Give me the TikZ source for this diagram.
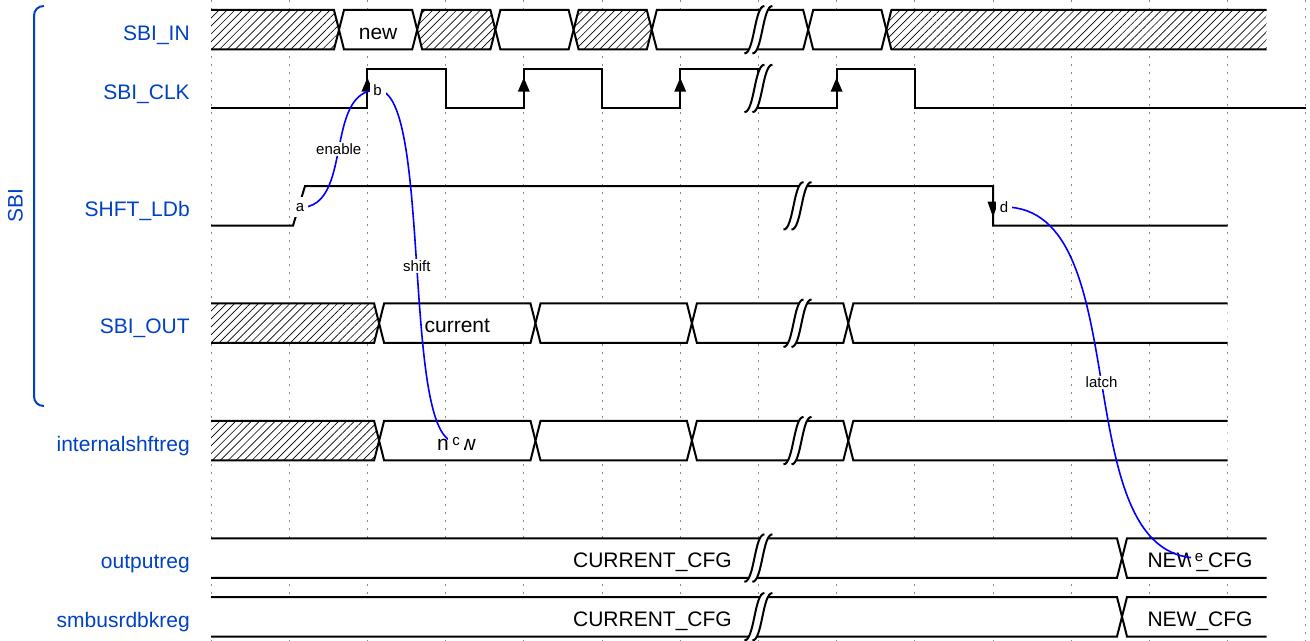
\documentclass[tikz,border=0pt]{standalone}
\usepackage{fontspec}
\setmainfont{Liberation Sans}
\usetikzlibrary{patterns.meta}
\definecolor{wdblue}{HTML}{0041C4}
\definecolor{gridgray}{HTML}{888888}

% data brick between two crossings: x1, x2, top, bottom, look
\newcommand{\wbrick}[5]{%
  \filldraw[wave,#5] (#1,{(#3+#4)/2}) -- (#1+5,#3) -- (#2-5,#3) -- (#2,{(#3+#4)/2}) -- (#2-5,#4) -- (#1+5,#4) -- cycle;}
% brick open on the left
\newcommand{\wbrickL}[5]{%
  \path[#5] (#1,#3) -- (#2-5,#3) -- (#2,{(#3+#4)/2}) -- (#2-5,#4) -- (#1,#4) -- cycle;
  \draw[wave] (#1,#3) -- (#2-5,#3) -- (#2,{(#3+#4)/2}) -- (#2-5,#4) -- (#1,#4);}
% brick open on the right
\newcommand{\wbrickR}[5]{%
  \path[#5] (#2,#3) -- (#1+5,#3) -- (#1,{(#3+#4)/2}) -- (#1+5,#4) -- (#2,#4) -- cycle;
  \draw[wave] (#2,#3) -- (#1+5,#3) -- (#1,{(#3+#4)/2}) -- (#1+5,#4) -- (#2,#4);}
% break mark: centre x, top, bottom
\newcommand{\wgap}[3]{%
  \fill[white] (#1-14,#3+4) .. controls (#1-4,#3+4) and (#1-4,#2-4) .. (#1+6,#2-4)
    -- (#1+14,#2-4) .. controls (#1+4,#2-4) and (#1+4,#3+4) .. (#1-6,#3+4) -- cycle;
  \draw[wave] (#1-14,#3+4) .. controls (#1-4,#3+4) and (#1-4,#2-4) .. (#1+6,#2-4);
  \draw[wave] (#1-6,#3+4) .. controls (#1+4,#3+4) and (#1+4,#2-4) .. (#1+14,#2-4);}

\begin{document}
\begin{tikzpicture}[x=0.75pt,y=-0.75pt,
  wave/.style={line width=1.5pt},
  datfill/.style={fill=white},
  xfill/.style={preaction={fill=white},pattern={Lines[angle=45,distance=4.2pt,line width=0.5pt]}},
  gridln/.style={gridgray,line width=0.75pt,dash pattern=on 1.5pt off 4.5pt},
  sig/.style={text=wdblue,font=\fontsize{15.75}{18}\selectfont,anchor=base east,inner sep=0pt},
  dat/.style={font=\fontsize{15.75}{18}\selectfont,anchor=base,inner sep=0pt},
  link/.style={blue,line width=1.2pt},
  elbl/.style={fill=white,text=black,font=\fontsize{11.25}{13}\selectfont,inner sep=1pt},
  nlbl/.style={fill=white,text=black,font=\fontsize{11.25}{13}\selectfont,inner sep=0pt,minimum width=12pt,minimum height=15pt}]
\useasboundingbox (0,0) rectangle (1310,641);

% grid
\foreach \k in {0,...,14}
  \draw[gridln] ({211+78.2*\k},0) -- ({211+78.2*\k},641);

% group
\draw[wdblue,line width=1.5pt] (44,6) .. controls (38,6) and (34,10) .. (34,16) -- (34,396)
  .. controls (34,402) and (38,406) .. (44,406);
\node[text=wdblue,font=\fontsize{15.75}{18}\selectfont,rotate=90] (grp) at (15.5,206) {SBI};

% signal names
\node[sig] (lin) at (190,40.5) {SBI\_IN};
\node[sig] (lclk) at (190,99.2) {SBI\_CLK};
\node[sig] (lshft) at (190,216.6) {SHFT\_LDb};
\node[sig] (lout) at (190,334) {SBI\_OUT};
\node[sig] (lint) at (190,451.4) {internalshftreg};
\node[sig] (loreg) at (190,568.8) {outputreg};
\node[sig] (lsmb) at (190,627.5) {smbusrdbkreg};

% SBI_IN
\wbrickL{211}{339}{10}{49.5}{xfill}
\wbrick{339}{417.2}{10}{49.5}{datfill}
\wbrick{417.2}{495.4}{10}{49.5}{xfill}
\wbrick{495.4}{573.6}{10}{49.5}{datfill}
\wbrick{573.6}{651.8}{10}{49.5}{xfill}
\wbrick{651.8}{808.2}{10}{49.5}{datfill}
\wbrick{808.2}{886.4}{10}{49.5}{datfill}
\wbrickR{886.4}{1266.7}{10}{49.5}{xfill}
\node[dat] (tin) at (378.1,39.5) {new};
\wgap{758.4}{10}{49.5}

% SBI_CLK
\draw[wave] (211,108.2) -- (367.4,108.2) -- (367.4,68.7) -- (445.6,68.7) -- (445.6,108.2)
  -- (523.8,108.2) -- (523.8,68.7) -- (602,68.7) -- (602,108.2) -- (680.2,108.2) -- (680.2,68.7)
  -- (758.4,68.7) -- (758.4,108.2) -- (836.6,108.2) -- (836.6,68.7) -- (914.8,68.7)
  -- (914.8,108.2) -- (1305.8,108.2);
\foreach \x in {367.4,523.8,680.2,836.6}
  \fill (\x,77.7) -- (\x-6,91.7) -- (\x+6,91.7) -- cycle;
\wgap{758.4}{68.7}{108.2}

% SHFT_LDb
\draw[wave] (211,225.6) -- (293,225.6) -- (305,186.1) -- (993,186.1) -- (993,225.6) -- (1227.6,225.6);
\fill (993,217.1) -- (987.5,201.6) -- (998.5,201.6) -- cycle;
\wgap{797.5}{186.1}{225.6}

% SBI_OUT
\wbrickL{211}{379.1}{303.5}{343}{xfill}
\wbrick{379.1}{535.5}{303.5}{343}{datfill}
\wbrick{535.5}{691.9}{303.5}{343}{datfill}
\wbrick{691.9}{848.3}{303.5}{343}{datfill}
\wbrickR{848.3}{1227.6}{303.5}{343}{datfill}
\node[dat] (tcur) at (457.3,333) {current};
\wgap{797.5}{303.5}{343}

% internalshftreg
\wbrickL{211}{379.1}{420.9}{460.4}{xfill}
\wbrick{379.1}{535.5}{420.9}{460.4}{datfill}
\wbrick{535.5}{691.9}{420.9}{460.4}{datfill}
\wbrick{691.9}{848.3}{420.9}{460.4}{datfill}
\wbrickR{848.3}{1227.6}{420.9}{460.4}{datfill}
\node[dat] (tnew) at (456.5,450.4) {new};
\wgap{797.5}{420.9}{460.4}

% outputreg
\wbrickL{211}{1122}{538.3}{577.8}{datfill}
\wbrickR{1122}{1266.7}{538.3}{577.8}{datfill}
\node[dat] (tocur) at (652.5,567.8) {CURRENT\_CFG};
\node[dat] (tonew) at (1200,567.8) {NEW\_CFG};
\wgap{758.4}{538.3}{577.8}

% smbusrdbkreg
\wbrickL{211}{1122}{597}{636.5}{datfill}
\wbrickR{1122}{1266.7}{597}{636.5}{datfill}
\node[dat] (tscur) at (652.5,626.5) {CURRENT\_CFG};
\node[dat] (tsnew) at (1200,626.5) {NEW\_CFG};
\wgap{758.4}{597}{636.5}

% edges
\coordinate (a) at (300,207.5);
\coordinate (b) at (377.5,90);
\coordinate (c) at (456,442);
\coordinate (d) at (1004,207);
\coordinate (e) at (1199,558);
\draw[link] (a) .. controls +(54.25,0) and +(-54.25,0) .. (b) node[midway,elbl] (len) {enable};
\draw[link] (b) .. controls +(54.95,0) and +(-54.95,0) .. (c) node[midway,elbl] (lsh) {shift};
\draw[link] (d) .. controls +(136.5,0) and +(-136.5,0) .. (e) node[midway,elbl] (lla) {latch};
\node[nlbl] (na) at (a) {a};
\node[nlbl] (nb) at (b) {b};
\node[nlbl] (nc) at (c) {c};
\node[nlbl] (nd) at (d) {d};
\node[nlbl] (ne) at (e) {e};
\end{tikzpicture}
\end{document}
